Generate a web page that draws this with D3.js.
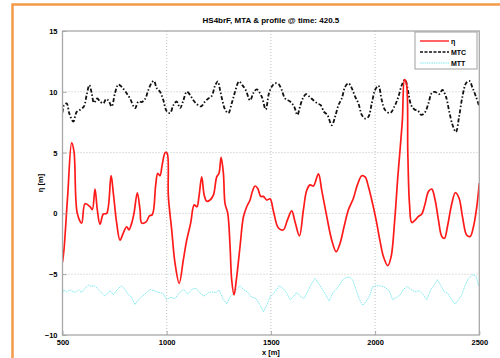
<!DOCTYPE html>
<html>
<head>
<meta charset="utf-8">
<script src="https://cdn.jsdelivr.net/npm/d3@7"></script>
<style>
  html, body { margin: 0; padding: 0; background: #fff; }
  svg { display: block; }
  text { font-family: "Liberation Sans", Arial, sans-serif; font-weight: bold; fill: #000; }
</style>
</head>
<body>
<svg id="chart" width="500" height="358"></svg>
<script>
// Free surface elevation η along the profile
const etaX = [500,507,525,544,555,571,592,608,632,643,656,667,680,696,712,733,744,760,776,792,808,819,832,843,859,872,880,901,917,931,947,957,968,977,993,1002,1008,1024,1040,1060,1080,1096,1115,1132,1145,1155,1168,1180,1192,1208,1224,1240,1251,1261,1272,1280,1293,1304,1312,1323,1336,1352,1368,1384,1400,1411,1424,1437,1451,1464,1480,1496,1512,1536,1560,1579,1600,1616,1637,1656,1672,1688,1704,1728,1744,1768,1792,1813,1832,1851,1872,1896,1915,1936,1952,1968,1984,2005,2024,2040,2061,2077,2093,2109,2121,2131,2141,2150,2157,2165,2176,2192,2208,2224,2240,2256,2272,2288,2304,2320,2333,2347,2368,2385,2403,2419,2440,2456,2472,2488,2500];
const etaY = [-4.0,-3.0,1.5,5.8,5.1,0.0,-0.8,0.8,0.55,0.3,2.0,0.3,-0.9,-0.05,0.0,3.1,1.65,-0.8,-2.2,-1.6,-1.1,-1.35,-0.8,0.0,1.7,0.3,-0.8,-0.7,-0.2,-0.1,2.3,3.3,3.1,3.85,5.0,4.95,1.4,-1.35,-4.1,-5.75,-3.8,-2.2,-0.8,0.7,0.55,1.4,3.0,1.5,1.0,1.1,1.5,3.0,3.3,4.6,3.3,0.8,0.0,-2.7,-5.5,-6.7,-5.2,-2.7,-0.3,0.55,1.1,1.8,2.25,2.05,1.4,1.4,1.1,1.2,0.2,-1.2,-1.35,-0.55,0.2,-0.7,-1.85,0.3,1.9,2.35,2.25,3.25,1.9,-0.25,-2.2,-3.15,-2.45,-1.1,0.3,1.25,2.35,3.1,3.0,2.2,1.1,-0.55,-2.3,-3.55,-4.3,-3.55,-0.8,3.0,5.5,7.7,11.0,10.7,4.95,0.8,-0.75,-0.55,-0.25,-0.05,0.8,1.8,2.0,1.1,-0.55,-1.9,-2.05,-1.1,0.8,1.7,1.25,-0.25,-1.8,-1.9,-1.1,0.55,2.5];

// MTC series
const mtcX = [500,507,520,533,552,568,587,603,616,629,640,651,667,680,696,709,720,736,752,768,784,803,824,848,864,880,896,912,928,939,952,968,984,1000,1016,1032,1048,1064,1080,1096,1112,1128,1144,1165,1184,1200,1216,1232,1245,1256,1267,1280,1296,1312,1328,1347,1363,1379,1400,1416,1432,1456,1475,1491,1507,1520,1536,1552,1568,1592,1611,1627,1640,1653,1669,1685,1704,1723,1739,1755,1771,1792,1808,1824,1840,1856,1872,1888,1904,1920,1936,1952,1968,1984,2000,2016,2032,2048,2072,2093,2112,2128,2144,2157,2173,2189,2205,2221,2237,2256,2272,2288,2307,2323,2340,2356,2372,2388,2403,2419,2436,2452,2468,2484,2500];
const mtcY = [8.3,8.9,9.05,8.2,7.55,8.35,8.55,8.8,9.75,10.55,9.9,9.1,9.45,9.2,9.05,9.4,9.3,8.8,9.9,10.6,10.4,10.0,9.45,8.65,9.2,9.15,9.4,10.15,10.75,10.9,10.3,10.0,9.3,8.4,8.25,8.9,9.2,8.65,9.3,10.0,9.75,9.3,9.0,8.8,9.2,9.45,9.65,10.5,10.85,10.15,9.3,8.55,8.25,9.05,10.0,10.85,10.55,10.15,9.3,9.9,10.2,9.6,8.55,9.9,10.5,10.7,10.65,10.15,9.45,9.2,8.8,8.1,8.8,9.45,9.8,9.6,9.3,9.05,8.9,8.35,8.1,7.25,7.95,8.9,9.45,10.4,10.7,10.3,9.6,9.05,8.1,7.8,7.95,9.05,10.15,10.5,9.3,8.5,8.25,8.8,9.6,10.55,11.0,10.15,8.9,8.55,8.45,8.1,8.25,9.05,9.9,10.0,9.8,10.15,9.6,8.35,7.25,6.7,7.95,9.6,10.7,10.9,10.3,9.6,8.8];

// MTT series
const mttX = [500,504,520,536,560,576,592,608,624,640,656,672,688,704,728,744,763,784,800,816,832,848,864,880,901,920,939,960,981,1000,1016,1040,1060,1080,1101,1120,1141,1160,1179,1200,1216,1237,1252,1272,1288,1304,1320,1336,1352,1371,1387,1408,1429,1448,1464,1480,1496,1520,1540,1557,1576,1592,1608,1624,1643,1659,1680,1696,1712,1728,1744,1763,1780,1797,1813,1829,1845,1864,1880,1893,1909,1925,1941,1957,1973,1989,2008,2027,2048,2068,2084,2104,2120,2136,2155,2171,2192,2213,2232,2248,2267,2283,2299,2316,2332,2347,2368,2384,2400,2416,2432,2448,2469,2484,2496,2500];
const mttY = [-6.6,-6.3,-6.45,-6.3,-6.5,-6.3,-6.5,-6.15,-5.9,-6.0,-5.95,-6.25,-6.55,-6.8,-6.35,-6.7,-6.25,-5.95,-6.25,-6.7,-6.9,-7.5,-7.1,-6.85,-6.55,-6.25,-6.35,-6.5,-6.55,-7.1,-6.9,-7.0,-6.55,-6.25,-6.65,-6.25,-6.15,-6.55,-6.8,-6.55,-6.45,-6.5,-6.3,-7.1,-7.45,-6.85,-6.6,-6.25,-5.95,-6.3,-6.45,-6.9,-7.0,-7.55,-8.1,-7.55,-6.85,-6.45,-5.95,-6.15,-6.55,-7.1,-6.85,-6.5,-6.85,-7.0,-6.3,-5.75,-5.35,-5.75,-6.15,-6.7,-7.2,-6.55,-6.25,-5.9,-5.45,-5.25,-5.25,-5.5,-6.3,-7.1,-7.55,-7.25,-6.8,-6.0,-5.95,-5.95,-6.1,-6.35,-7.1,-6.9,-6.7,-6.25,-6.0,-6.25,-6.45,-6.35,-6.7,-7.1,-6.25,-5.9,-5.45,-5.95,-6.45,-6.55,-7.1,-7.45,-7.1,-6.7,-5.9,-5.35,-5.05,-5.15,-5.95,-5.8];

const xTicks = [500, 1000, 1500, 2000, 2500];
const yTicks = [-10, -5, 0, 5, 10, 15];
const legendLabels = ["η", "MTC", "MTT"];

const svg = d3.select("#chart");

// outer figure frame
svg.append("rect")
  .attr("x", 12.5).attr("y", 4.5)
  .attr("width", 500).attr("height", 370)
  .attr("fill", "none")
  .attr("stroke", "#f29a4a")
  .attr("stroke-width", 2.5);

const m = { left: 62.5, right: 479.3, top: 31, bottom: 335 };
const x = d3.scaleLinear().domain([500, 2500]).range([m.left, m.right]);
const y = d3.scaleLinear().domain([-10, 15]).range([m.bottom, m.top]);

// dotted grid
const grid = svg.append("g");
grid.selectAll("line.gx").data(xTicks.slice(1, -1)).join("line")
  .attr("x1", d => x(d)).attr("x2", d => x(d))
  .attr("y1", m.top).attr("y2", m.bottom)
  .attr("stroke", "#b0b0b0").attr("stroke-width", 0.8)
  .attr("stroke-dasharray", "1,2");
grid.selectAll("line.gy").data(yTicks.slice(1, -1)).join("line")
  .attr("y1", d => y(d)).attr("y2", d => y(d))
  .attr("x1", m.left).attr("x2", m.right)
  .attr("stroke", "#b0b0b0").attr("stroke-width", 0.8)
  .attr("stroke-dasharray", "1,2");

// series paths, lightly smoothed through the sampled points
const line = (xs, ys, curve) => d3.line()
  .x((d, i) => x(xs[i]))
  .y(d => y(d))
  .curve(curve)(ys);

svg.append("clipPath").attr("id", "plotclip")
  .append("rect").attr("x", m.left).attr("y", m.top)
  .attr("width", m.right - m.left).attr("height", m.bottom - m.top);

const plot = svg.append("g").attr("clip-path", "url(#plotclip)");

plot.append("path").attr("d", line(mttX, mttY, d3.curveLinear))
  .attr("fill", "none").attr("stroke", "#7fe8ef")
  .attr("stroke-width", 1).attr("stroke-dasharray", "1.5,0.8");

plot.append("path").attr("d", line(mtcX, mtcY, d3.curveCatmullRom.alpha(0.5)))
  .attr("fill", "none").attr("stroke", "#111")
  .attr("stroke-width", 1.8).attr("stroke-dasharray", "4,2,1.5,2");

plot.append("path").attr("d", line(etaX, etaY, d3.curveCatmullRom.alpha(0.5)))
  .attr("fill", "none").attr("stroke", "#ff1a1a")
  .attr("stroke-width", 1.7).attr("stroke-linejoin", "round");

// axes box
svg.append("rect")
  .attr("x", m.left).attr("y", m.top)
  .attr("width", m.right - m.left).attr("height", m.bottom - m.top)
  .attr("fill", "none").attr("stroke", "#a8a8a8").attr("stroke-width", 1.3);

// ticks
const xAxis = d3.axisBottom(x).tickValues(xTicks).tickSize(-4).tickPadding(5).tickFormat(d3.format("d"));
const gx = svg.append("g").attr("transform", `translate(0,${m.bottom})`).call(xAxis);
gx.select(".domain").remove();
gx.selectAll(".tick line").attr("stroke", "#a8a8a8");
gx.selectAll("text").attr("font-size", 7.5).attr("font-family", "Liberation Sans, Arial, sans-serif").attr("font-weight", "bold");

const yAxis = d3.axisLeft(y).tickValues(yTicks).tickSize(-4).tickPadding(5);
const gy = svg.append("g").attr("transform", `translate(${m.left},0)`).call(yAxis);
gy.select(".domain").remove();
gy.selectAll(".tick line").attr("stroke", "#a8a8a8");
gy.selectAll("text").attr("font-size", 7.5).attr("font-family", "Liberation Sans, Arial, sans-serif").attr("font-weight", "bold");

// title and axis labels
svg.append("text").attr("x", (m.left + m.right) / 2).attr("y", 23)
  .attr("text-anchor", "middle").attr("font-size", 8)
  .text("HS4brF, MTA & profile @ time: 420.5");
svg.append("text").attr("x", (m.left + m.right) / 2).attr("y", 355)
  .attr("text-anchor", "middle").attr("font-size", 7.5)
  .text("x [m]");
svg.append("text")
  .attr("transform", `translate(43,${(m.top + m.bottom) / 2}) rotate(-90)`)
  .attr("text-anchor", "middle").attr("font-size", 7.5)
  .text("η [m]");

// legend
const lg = svg.append("g");
lg.append("rect").attr("x", 415).attr("y", 32).attr("width", 62).attr("height", 37)
  .attr("fill", "#fff").attr("stroke", "#a0a0a0").attr("stroke-width", 1);
const styles = [
  { stroke: "#ff4a4a", w: 1.7, dash: null },
  { stroke: "#111", w: 1.3, dash: "3,1.5" },
  { stroke: "#7fe8ef", w: 1, dash: "1.5,0.8" }
];
legendLabels.forEach((lab, i) => {
  const yy = 41 + i * 11;
  lg.append("line").attr("x1", 420).attr("x2", 449).attr("y1", yy).attr("y2", yy)
    .attr("stroke", styles[i].stroke).attr("stroke-width", styles[i].w)
    .attr("stroke-dasharray", styles[i].dash);
  lg.append("text").attr("x", 451).attr("y", yy + 2.8).attr("font-size", 7).text(lab);
});
</script>
</body>
</html>
